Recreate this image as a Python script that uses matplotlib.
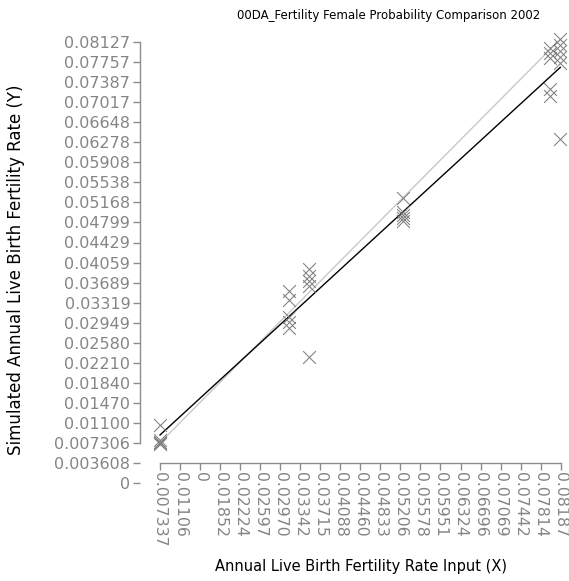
import numpy as np
import matplotlib
matplotlib.use("Agg")
import matplotlib.pyplot as plt

# ---- data -------------------------------------------------------------
input_rate = [
    0.00734, 0.00734, 0.00734, 0.00734, 0.00734,
    0.0313, 0.0313, 0.0313, 0.0313, 0.0313,
    0.0351, 0.0351, 0.0351, 0.0351, 0.0351,
    0.0525, 0.0525, 0.0525, 0.0525, 0.0525,
    0.0798, 0.0798, 0.0798, 0.0798, 0.0798,
    0.0818, 0.0818, 0.0818, 0.0818, 0.0818, 0.0818,
]
simulated_rate = [
    0.0106, 0.0078, 0.0075, 0.0073, 0.0072,
    0.0353, 0.0337, 0.0306, 0.0296, 0.0285,
    0.0394, 0.0381, 0.0372, 0.0363, 0.0232,
    0.0525, 0.0499, 0.0494, 0.0488, 0.0483,
    0.0802, 0.0792, 0.0783, 0.0726, 0.0713,
    0.0818, 0.0807, 0.0796, 0.0785, 0.0774, 0.0634,
]
trend_slope = 0.9107
trend_intercept = 0.0021

x_tick_values = np.linspace(0.007337, 0.08187, 21)
x_tick_labels = ["0.007337", "0.01106", "0", "0.01852", "0.02224", "0.02597",
                 "0.02970", "0.03342", "0.03715", "0.04088", "0.04460", "0.04833",
                 "0.05206", "0.05578", "0.05951", "0.06324", "0.06696", "0.07069",
                 "0.07442", "0.07814", "0.08187"]
y_step = (0.08127 - 0.007306) / 20
y_tick_values = 0.08127 - y_step * np.arange(23)
y_tick_labels = ["0.08127", "0.07757", "0.07387", "0.07017", "0.06648", "0.06278",
                 "0.05908", "0.05538", "0.05168", "0.04799", "0.04429", "0.04059",
                 "0.03689", "0.03319", "0.02949", "0.02580", "0.02210", "0.01840",
                 "0.01470", "0.01100", "0.007306", "0.003608", "0"]

title = "00DA_Fertility Female Probability Comparison 2002"
x_label = "Annual Live Birth Fertility Rate Input (X)"
y_label = "Simulated Annual Live Birth Fertility Rate (Y)"

# ---- figure / axes geometry (pixels) ----------------------------------
W, H = 569, 581
fig = plt.figure(figsize=(W / 100, H / 100), dpi=100)

xlim = (0.0030, 0.0830)
ylim = (-0.0005, 0.0830)
# pixel calibration: x 0.007337 -> 160, 0.08187 -> 560.7 ; y 0.007306 -> 443, 0.08127 -> 42
xs = (560.7 - 160) / (0.08187 - 0.007337)
ys = (443 - 42) / (0.08127 - 0.007306)
L = 160 + (xlim[0] - 0.007337) * xs
R = 160 + (xlim[1] - 0.007337) * xs
B = 443 - (ylim[0] - 0.007306) * ys
T = 443 - (ylim[1] - 0.007306) * ys
ax = fig.add_axes([L / W, 1 - B / H, (R - L) / W, (B - T) / H])
ax.set_xlim(*xlim)
ax.set_ylim(*ylim)
ax.patch.set_alpha(0)

grey = "#8c8c8c"
tick_grey = "#858585"

# reference diagonal and fitted trend
xr = np.array([min(input_rate), max(input_rate)])
ax.plot(xr, xr, color="#c8c8c8", lw=1.0, zorder=1)
ax.plot(xr, trend_intercept + trend_slope * xr, color="black", lw=1.0, zorder=2)

ax.scatter(input_rate, simulated_rate, marker="x", s=85, color="#7f7f7f",
           linewidths=0.75, zorder=3, clip_on=False)

# range-frame axes
for s in ("top", "right"):
    ax.spines[s].set_visible(False)
x_spine_pos = 0.007337 - 20 / xs
y_spine_pos = 0.007306 - 19.5 / ys
ax.spines["left"].set_position(("data", x_spine_pos))
ax.spines["left"].set_bounds(0.007306, 0.08127)
ax.spines["bottom"].set_position(("data", y_spine_pos))
ax.spines["bottom"].set_bounds(0.007337, 0.08187)
for s in ("left", "bottom"):
    ax.spines[s].set_color(grey)
    ax.spines[s].set_linewidth(1.0)

ax.set_xticks(x_tick_values)
ax.set_xticklabels(x_tick_labels, rotation=-90, fontsize=11.3, color=tick_grey)
ax.set_yticks(y_tick_values)
ax.set_yticklabels(y_tick_labels, fontsize=11.5, color=tick_grey)
ax.tick_params(axis="both", direction="out", length=5, width=1.0, color=grey, pad=2)

fig.text(389 / W, 1 - 15 / H, title, ha="center", va="center", fontsize=8.5)
fig.text(361 / W, 1 - 566 / H, x_label, ha="center", va="center", fontsize=10.5)
fig.text(16 / W, 1 - 270 / H, y_label, ha="center", va="center", rotation=90,
         fontsize=12)

fig.savefig("out.png", dpi=100)
